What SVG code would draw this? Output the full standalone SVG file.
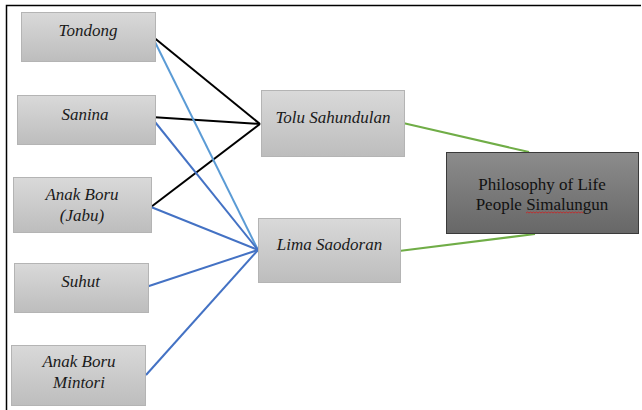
<svg xmlns="http://www.w3.org/2000/svg" width="642" height="410" viewBox="0 0 642 410">
<defs>
<linearGradient id="gl" x1="0" y1="0" x2="0" y2="1">
<stop offset="0" stop-color="#d9d9d9"/>
<stop offset="1" stop-color="#bdbdbd"/>
</linearGradient>
<linearGradient id="gd" x1="0" y1="0" x2="0" y2="1">
<stop offset="0" stop-color="#8c8c8c"/>
<stop offset="1" stop-color="#676767"/>
</linearGradient>
</defs>
<style>
.box{fill:url(#gl);stroke:#b4b4b4;stroke-width:1}
.dark{fill:url(#gd);stroke:#3a3a3a;stroke-width:1}
.t{font-size:17px;font-style:italic;fill:#1a1a1a;text-anchor:middle}
.p{font-size:17px;fill:#111;text-anchor:middle}
.c{fill:none;stroke-width:2}
.k{stroke:#000}
.lb{stroke:#5b9bd5}
.b{stroke:#4472c4}
.g{stroke:#70ad47}
</style>
<rect x="0" y="0" width="642" height="410" fill="#fff"/>
<path d="M6.5 410 V5.5 H641" fill="none" stroke="#000" stroke-width="1.5"/>
<g id="connectors">
<line class="c k" x1="152" y1="36" x2="260" y2="124"/>
<line class="c k" x1="151" y1="117" x2="260" y2="124"/>
<line class="c k" x1="151" y1="207" x2="260" y2="124"/>
<line class="c lb" x1="152" y1="36" x2="258" y2="250"/>
<line class="c b" x1="151" y1="117" x2="258" y2="250"/>
<line class="c b" x1="151" y1="207" x2="258" y2="250"/>
<line class="c b" x1="146" y1="287" x2="258" y2="250"/>
<line class="c b" x1="146" y1="375" x2="258" y2="250"/>
<line class="c g" x1="403" y1="123" x2="529" y2="152"/>
<line class="c g" x1="399" y1="251" x2="535" y2="234"/>
</g>
<g font-family="Liberation Serif, Times New Roman, DejaVu Serif, serif">
<g id="tondong">
<rect class="box" x="21.5" y="12.5" width="134" height="49"/>
<text class="t" x="88" y="36">Tondong</text>
</g>
<g id="sanina">
<rect class="box" x="17.5" y="95.5" width="138" height="49"/>
<text class="t" x="85" y="120">Sanina</text>
</g>
<g id="anak-boru-jabu">
<rect class="box" x="13.5" y="177.5" width="138" height="55"/>
<text class="t" x="82" y="200">Anak Boru</text>
<text class="t" x="82" y="221">(Jabu)</text>
</g>
<g id="suhut">
<rect class="box" x="14.5" y="263.5" width="134" height="49"/>
<text class="t" x="80.5" y="287">Suhut</text>
</g>
<g id="anak-boru-mintori">
<rect class="box" x="11.5" y="345.5" width="134" height="60"/>
<text class="t" x="79" y="367">Anak Boru</text>
<text class="t" x="79" y="388">Mintori</text>
</g>
<g id="tolu-sahundulan">
<rect class="box" x="261.5" y="90.5" width="143" height="66"/>
<text class="t" x="333" y="123">Tolu Sahundulan</text>
</g>
<g id="lima-saodoran">
<rect class="box" x="258.5" y="218.5" width="142" height="64"/>
<text class="t" x="329.5" y="250">Lima Saodoran</text>
</g>
<g id="philosophy">
<rect class="dark" x="446.5" y="152.5" width="192" height="81"/>
<text class="p" x="542" y="190">Philosophy of Life</text>
<text class="p" x="542" y="210">People Simalungun</text>
<path d="M526 213 l1.5 -1 1.5 1 1.5 -1 1.5 1 1.5 -1 1.5 1 1.5 -1 1.5 1 1.5 -1 1.5 1 1.5 -1 1.5 1 1.5 -1 1.5 1 1.5 -1 1.5 1 1.5 -1 1.5 1 1.5 -1 1.5 1 1.5 -1 1.5 1 1.5 -1 1.5 1 1.5 -1 1.5 1 1.5 -1 1.5 1 1.5 -1 1.5 1 1.5 -1 1.5 1 1.5 -1 1.5 1 1.5 -1 1.5 1 1.5 -1 1.5 1" fill="none" stroke="#d02020" stroke-width="0.8"/>
</g>
</g>
</svg>
